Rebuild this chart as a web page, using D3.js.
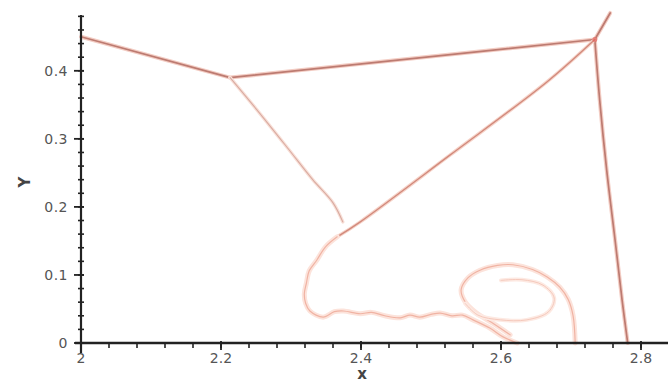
<!DOCTYPE html>
<html><head><meta charset="utf-8">
<script src="https://cdn.jsdelivr.net/npm/d3@7"></script>
<style>body{margin:0;background:#fff}svg{display:block}</style>
</head><body>
<svg id="c" width="668" height="383"></svg>
<script>
// ---- data (x, y) ----
const xTicks = [2, 2.2, 2.4, 2.6, 2.8];
const xTickLabels = ["2", "2.2", "2.4", "2.6", "2.8"];
const yTicks = [0, 0.1, 0.2, 0.3, 0.4];
const yTickLabels = ["0", "0.1", "0.2", "0.3", "0.4"];

const incidentShock = [[2.0, 0.450], [2.213, 0.390]];
const upperShock = [[2.213, 0.390], [2.734, 0.446]];
const topShock = [[2.734, 0.446], [2.756, 0.485]];
const machStem = [[2.734, 0.446], [2.741, 0.357], [2.751, 0.254], [2.763, 0.151], [2.773, 0.063], [2.781, 0.0]];
const reflectedShock = [[2.734, 0.446], [2.666, 0.384], [2.527, 0.276], [2.399, 0.178], [2.366, 0.156]];
const slipLine = [[2.213, 0.390], [2.251, 0.343], [2.294, 0.288], [2.331, 0.240], [2.360, 0.206], [2.374, 0.178]];
const vortexFront = [[2.366, 0.156], [2.349, 0.141], [2.337, 0.122], [2.326, 0.106], [2.322, 0.088], [2.319, 0.072], [2.321, 0.058],
  [2.327, 0.047], [2.346, 0.038], [2.362, 0.046], [2.375, 0.047], [2.399, 0.043], [2.415, 0.045], [2.434, 0.040],
  [2.456, 0.037], [2.470, 0.041], [2.484, 0.038], [2.500, 0.042], [2.513, 0.044], [2.530, 0.040], [2.545, 0.041],
  [2.560, 0.034], [2.584, 0.022], [2.603, 0.009], [2.623, 0.0]];
const vortexLoop = [[2.613, 0.012], [2.590, 0.028], [2.565, 0.044], [2.549, 0.060], [2.543, 0.078], [2.553, 0.096],
  [2.570, 0.107], [2.595, 0.114], [2.617, 0.115], [2.645, 0.108], [2.666, 0.097], [2.684, 0.082], [2.696, 0.064],
  [2.703, 0.040], [2.706, 0.0]];
const vortexInner = [[2.549, 0.058], [2.567, 0.041], [2.599, 0.034], [2.637, 0.034], [2.668, 0.046], [2.676, 0.066],
  [2.660, 0.085], [2.630, 0.093], [2.600, 0.092]];

// ---- layout ----
const svg = d3.select("#c");
const x = d3.scaleLinear().domain([2, 2.84]).range([81, 669]);
const y = d3.scaleLinear().domain([0, 0.482]).range([343, 15]);

const line = d3.line().x(d => x(d[0])).y(d => y(d[1])).curve(d3.curveCatmullRom.alpha(0.5));

function draw(data, glow, core, wGlow, wCore) {
  svg.append("path").attr("d", line(data)).attr("fill", "none")
    .attr("stroke", glow).attr("stroke-width", wGlow).attr("stroke-linecap", "round").attr("stroke-linejoin", "round");
  svg.append("path").attr("d", line(data)).attr("fill", "none")
    .attr("stroke", core).attr("stroke-width", wCore).attr("stroke-linecap", "round").attr("stroke-linejoin", "round");
}

// shocks
[incidentShock, upperShock, topShock, machStem].forEach(d => draw(d, "#f3cdc4", "#bd7b71", 4, 1.7));
draw(reflectedShock, "#f6d4ca", "#d28a7c", 3.5, 1.4);
draw(slipLine, "#f8e0d8", "#d9aaa0", 3.5, 1.1);
[vortexFront, vortexLoop].forEach(d => draw(d, "#fce3db", "#f0b3a3", 5, 1.2));
draw(vortexInner, "#fde9e2", "#f5c9bc", 4, 1.0);
// triple point spot
svg.append("circle").attr("cx", x(2.734)).attr("cy", y(0.446)).attr("r", 2.5).attr("fill", "#e0605a").attr("opacity", 0.7);

// ---- axes ----
const axisG = svg.append("g");
axisG.append("line").attr("x1", x(2)).attr("x2", x(2)).attr("y1", y(0.482)).attr("y2", y(0) + 10)
  .attr("stroke", "#222").attr("stroke-width", 2.2);
axisG.append("line").attr("x1", x(2) - 6).attr("x2", 668).attr("y1", y(0)).attr("y2", y(0))
  .attr("stroke", "#222").attr("stroke-width", 2.6);

const yMinor = d3.range(0, 0.4801, 0.02);
axisG.selectAll(".ym").data(yMinor).enter().append("line")
  .attr("x1", x(2) - 3).attr("x2", x(2) + 3)
  .attr("y1", d => y(d)).attr("y2", d => y(d)).attr("stroke", "#222").attr("stroke-width", 1.6);
axisG.selectAll(".yM").data(yTicks).enter().append("line")
  .attr("x1", x(2) - 7).attr("x2", x(2) + 3)
  .attr("y1", d => y(d)).attr("y2", d => y(d)).attr("stroke", "#222").attr("stroke-width", 1.8);

const xMinor = d3.range(2, 2.8401, 0.04);
axisG.selectAll(".xm").data(xMinor).enter().append("line")
  .attr("x1", d => x(d)).attr("x2", d => x(d))
  .attr("y1", y(0)).attr("y2", y(0) + 5).attr("stroke", "#222").attr("stroke-width", 1.6);
axisG.selectAll(".xM").data(xTicks).enter().append("line")
  .attr("x1", d => x(d)).attr("x2", d => x(d))
  .attr("y1", y(0) - 2).attr("y2", y(0) + 7).attr("stroke", "#222").attr("stroke-width", 1.8);

svg.selectAll(".xl").data(xTicks).enter().append("text")
  .attr("x", d => x(d)).attr("y", y(0) + 20).attr("text-anchor", "middle")
  .attr("font-family", "DejaVu Sans").attr("font-size", 14).attr("fill", "#555")
  .text((d, i) => xTickLabels[i]);
svg.selectAll(".yl").data(yTicks).enter().append("text")
  .attr("x", x(2) - 13).attr("y", d => y(d) + 5).attr("text-anchor", "end")
  .attr("font-family", "DejaVu Sans").attr("font-size", 14).attr("letter-spacing", 0.5).attr("fill", "#555")
  .text((d, i) => yTickLabels[i]);

svg.append("text").attr("x", 362).attr("y", 379).attr("text-anchor", "middle")
  .attr("font-family", "DejaVu Sans").attr("font-size", 15).attr("font-weight", "bold").attr("fill", "#444").text("x");
svg.append("text").attr("transform", "translate(30,182) rotate(-90)").attr("text-anchor", "middle")
  .attr("font-family", "DejaVu Sans").attr("font-size", 15).attr("font-weight", "bold").attr("fill", "#444").text("Y");
</script>
</body></html>
